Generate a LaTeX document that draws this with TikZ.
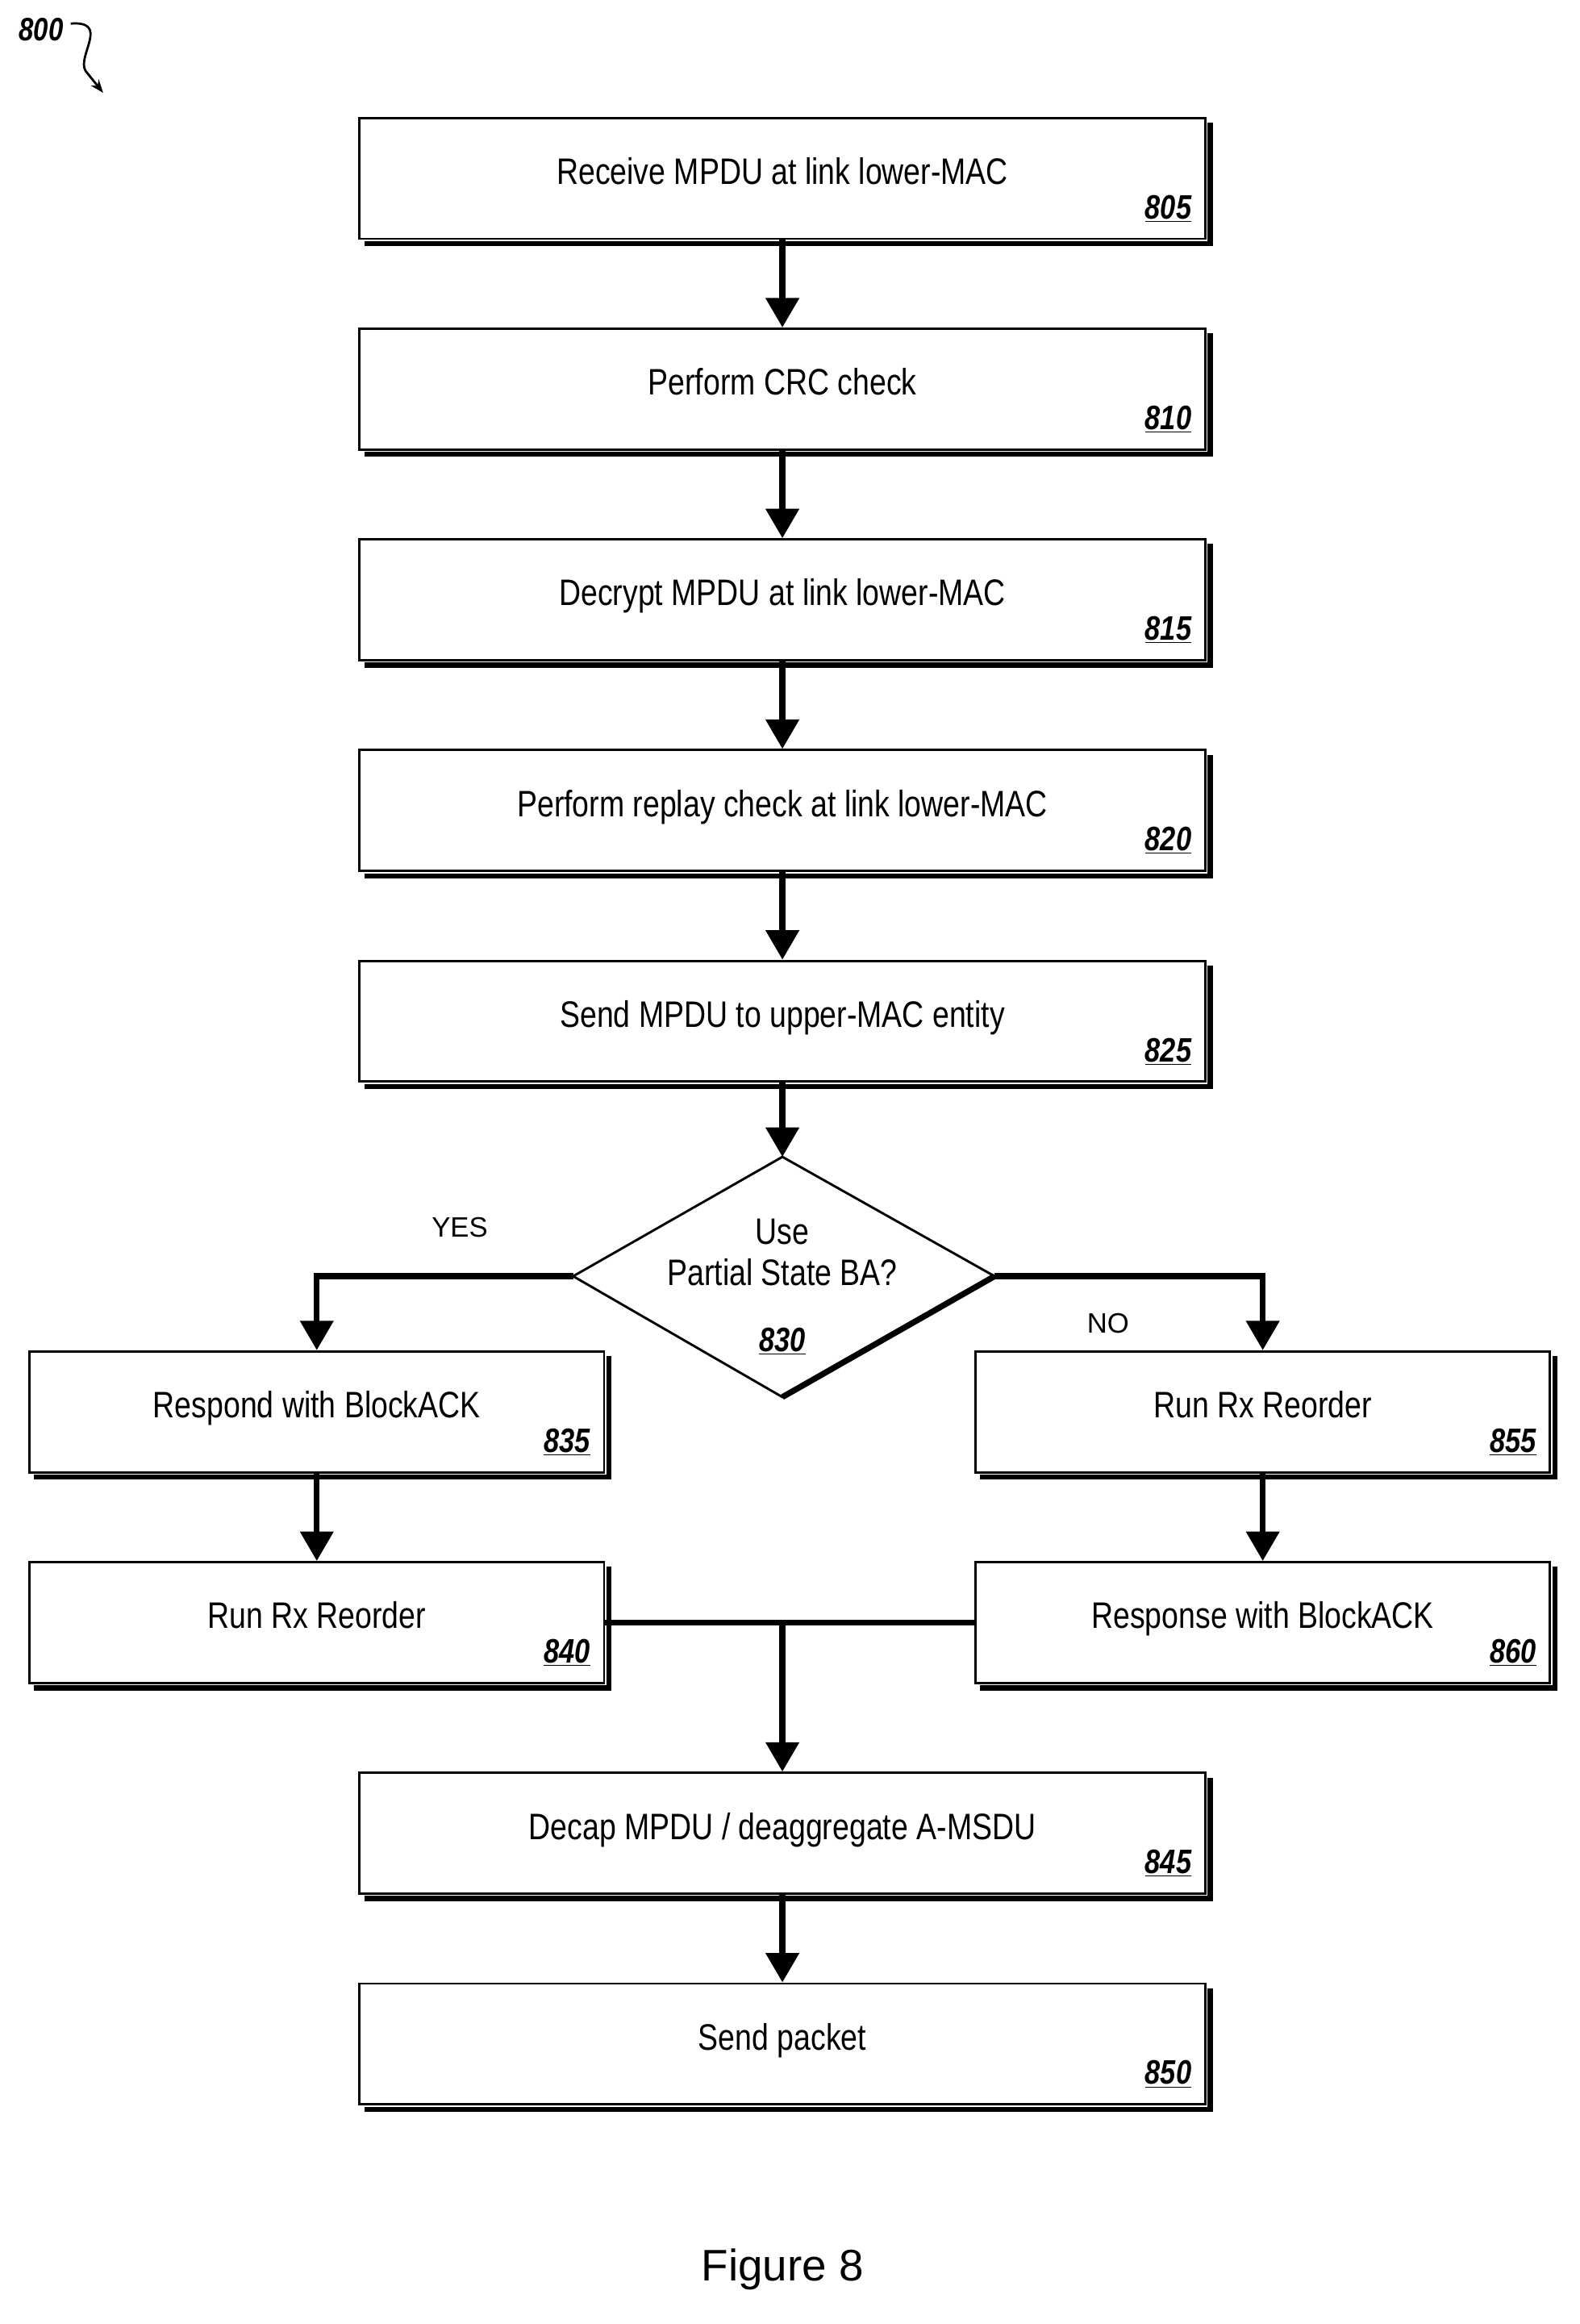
\documentclass[tikz,border=0pt]{standalone}
\usepackage{fontspec}
\setmainfont{Liberation Sans}
\newfontfamily\narrowf[FakeStretch=0.82]{Liberation Sans}
\usetikzlibrary{arrows.meta,shapes.geometric,calc}
\begin{document}
\begin{tikzpicture}[x=1pt,y=-1pt,
  box/.style={draw,line width=1.6pt,minimum width=574pt,minimum height=82pt,inner sep=0pt,font=\narrowf\fontsize{25}{28}\selectfont},
  sbox/.style={box,minimum width=390pt},
  num/.style={font=\narrowf\bfseries\itshape\fontsize{23}{26}\selectfont,anchor=south east,inner sep=0pt},
  arr/.style={line width=4pt,-{Triangle[length=20pt,width=22pt]}},
  ln/.style={line width=4pt}]
\useasboundingbox (0,0) rectangle (1072,1577);
\fill[white] (0,0) rectangle (1072,1577);
\newcommand{\shd}[2]{\draw[line width=3.5pt] ([xshift=2.5pt,yshift=-4pt]#1.north east) |- ([xshift=4pt,yshift=-2.5pt]#1.south west);
  \node[num] at ([xshift=-10pt,yshift=12pt]#1.south east) {\underline{#2}};}
\node[box] (b805) at (531,121) {\raisebox{10pt}{Receive MPDU at link lower-MAC}};
\node[box] (b810) at (531,264) {\raisebox{10pt}{Perform CRC check}};
\node[box] (b815) at (531,407) {\raisebox{10pt}{Decrypt MPDU at link lower-MAC}};
\node[box] (b820) at (531,550) {\raisebox{10pt}{Perform replay check at link lower-MAC}};
\node[box] (b825) at (531,693) {\raisebox{10pt}{Send MPDU to upper-MAC entity}};
\node[sbox] (b835) at (215,958) {\raisebox{10pt}{Respond with BlockACK}};
\node[sbox] (b840) at (215,1101) {\raisebox{10pt}{Run Rx Reorder}};
\node[sbox] (b855) at (857,958) {\raisebox{10pt}{Run Rx Reorder}};
\node[sbox] (b860) at (857,1101) {\raisebox{10pt}{Response with BlockACK}};
\node[box] (b845) at (531,1244) {\raisebox{10pt}{Decap MPDU / deaggregate A-MSDU}};
\node[box] (b850) at (531,1387) {\raisebox{10pt}{Send packet}};
\shd{b805}{805}\shd{b810}{810}\shd{b815}{815}\shd{b820}{820}\shd{b825}{825}
\shd{b835}{835}\shd{b840}{840}\shd{b855}{855}\shd{b860}{860}\shd{b845}{845}\shd{b850}{850}
% diamond
\coordinate (dt) at (531,785); \coordinate (dl) at (389,866);
\coordinate (dr) at (675,866); \coordinate (db) at (531,948);
\draw[line width=1.6pt] (dl) -- (dt) -- (dr) -- (db) -- cycle;
\draw[line width=4pt] (dr) -- (db);
\node[font=\narrowf\fontsize{25}{28}\selectfont,align=center] (d830) at (531,850) {Use\\Partial State BA?};
\node[num,anchor=center] at (531,910) {\underline{830}};
\draw[arr] (b805) -- (b810);
\draw[arr] (b810) -- (b815);
\draw[arr] (b815) -- (b820);
\draw[arr] (b820) -- (b825);
\draw[arr] (b825) -- (dt);
\draw[arr] (dl) -| (b835.north);
\draw[arr] (dr) -| (b855.north);
\draw[arr] (b835) -- (b840);
\draw[arr] (b855) -- (b860);
\draw[ln] (b840.east) -- (b860.west);
\coordinate (m) at (531,1101);
\draw[arr] (m) -- (b845);
\draw[arr] (b845) -- (b850);
\node[font=\fontsize{19}{22}\selectfont] (yes) at (312,833) {YES};
\node[font=\fontsize{19}{22}\selectfont] (no) at (752,898) {NO};
\node[font=\fontsize{30}{34}\selectfont] (fig) at (531,1540) {Figure 8};
\node[font=\narrowf\bfseries\itshape\fontsize{22}{24}\selectfont] (l800) at (28,20) {800};
\coordinate (e800) at (70,63);
\draw[line width=1.5pt,-{Stealth[length=9pt]}] (48,16) .. controls (75,14) and (52,38) .. (58,48) -- (e800);
\end{tikzpicture}
\end{document}
